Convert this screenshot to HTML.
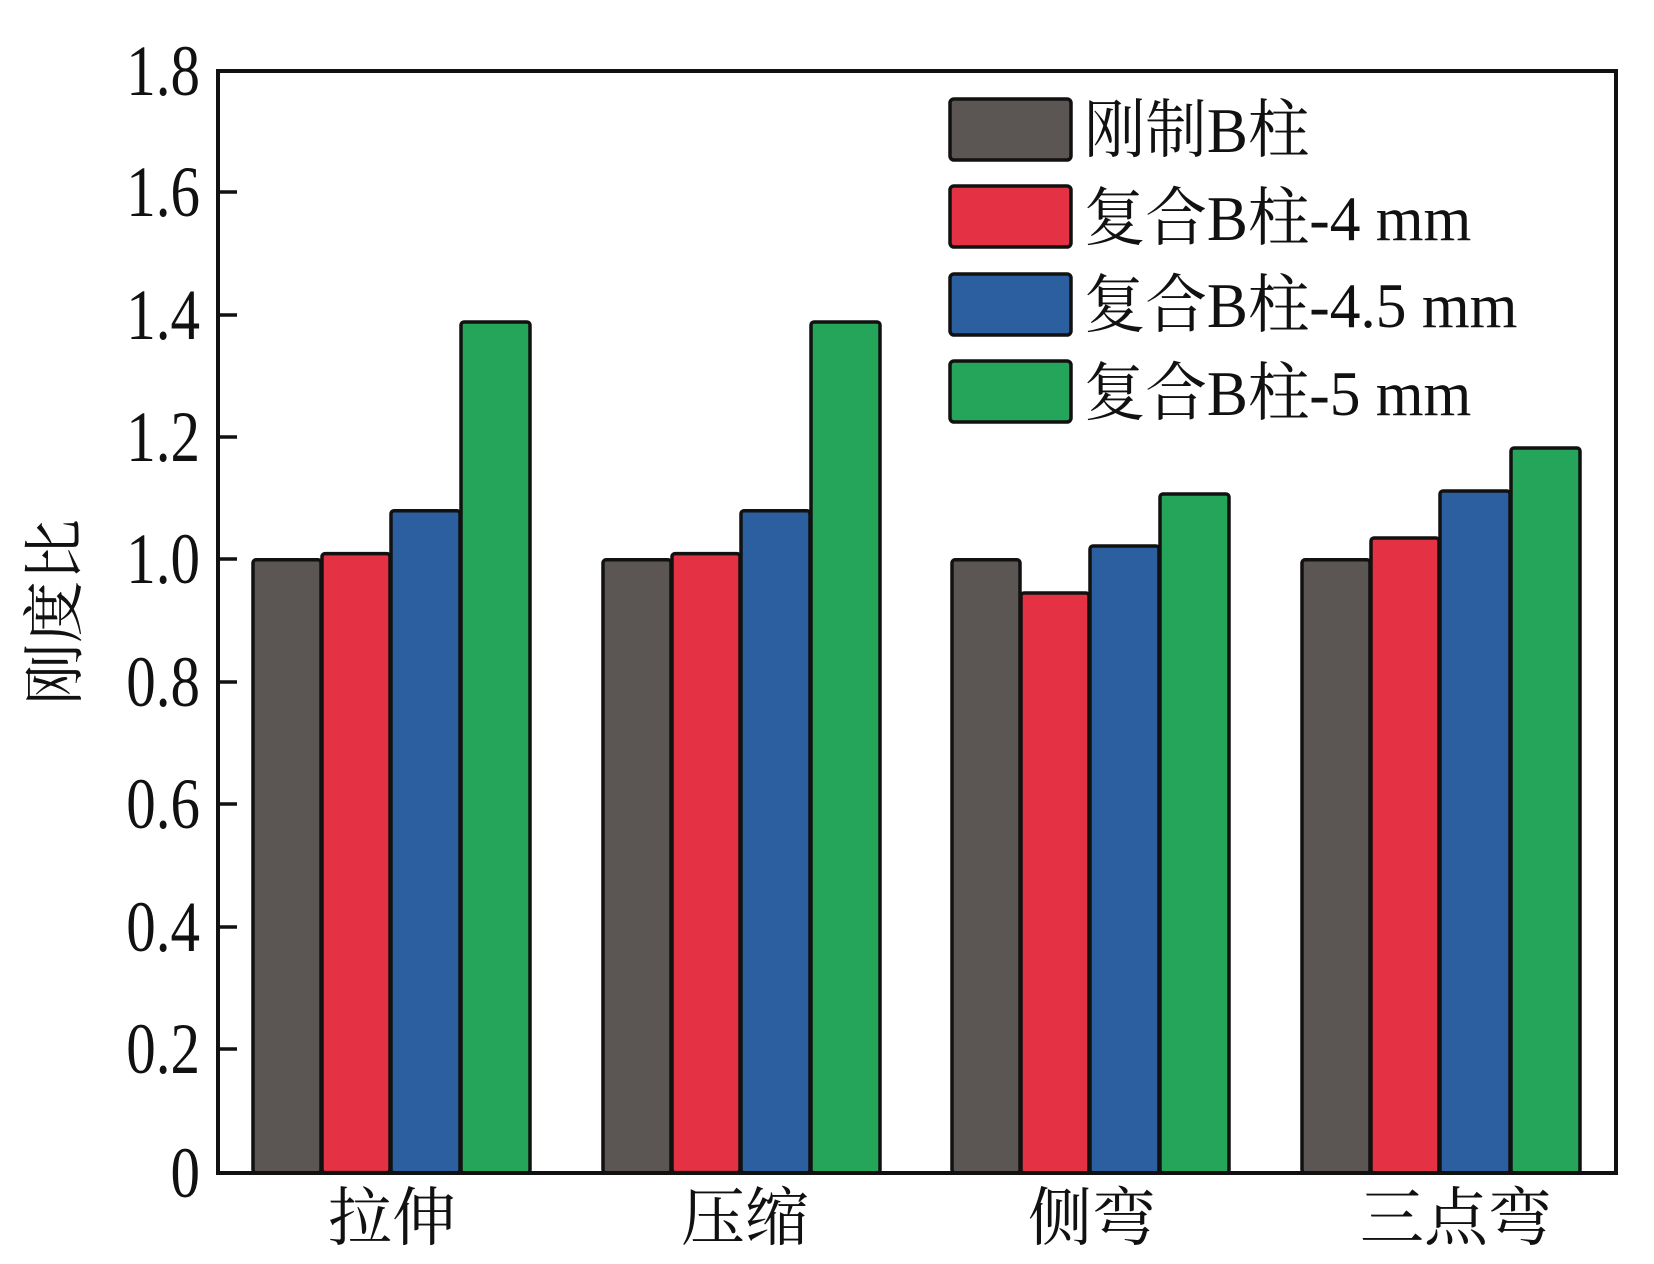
<!DOCTYPE html>
<html><head><meta charset="utf-8"><style>
html,body{margin:0;padding:0;background:#fff}
svg{display:block}
</style></head><body>
<svg width="1654" height="1264" viewBox="0 0 1654 1264" xmlns="http://www.w3.org/2000/svg">
<rect width="1654" height="1264" fill="#fff"/>
<g stroke="#111" stroke-width="3.5" stroke-linejoin="round" transform="translate(0,-3)">
<rect x="253" y="562.8" width="68" height="613" fill="#5b5653" rx="3"/>
<rect x="322" y="556.6" width="68" height="619" fill="#e43244" rx="3"/>
<rect x="391" y="513.7" width="69" height="662" fill="#2b5f9f" rx="3"/>
<rect x="461" y="325" width="69" height="851" fill="#24a55a" rx="3"/>
<rect x="603" y="562.8" width="68" height="613" fill="#5b5653" rx="3"/>
<rect x="672" y="556.6" width="68" height="619" fill="#e43244" rx="3"/>
<rect x="741" y="513.7" width="69" height="662" fill="#2b5f9f" rx="3"/>
<rect x="811" y="325" width="69" height="851" fill="#24a55a" rx="3"/>
<rect x="952" y="562.8" width="68" height="613" fill="#5b5653" rx="3"/>
<rect x="1021" y="596" width="68" height="580" fill="#e43244" rx="3"/>
<rect x="1090" y="549" width="69" height="627" fill="#2b5f9f" rx="3"/>
<rect x="1160" y="497" width="69" height="679" fill="#24a55a" rx="3"/>
<rect x="1302" y="562.8" width="68" height="613" fill="#5b5653" rx="3"/>
<rect x="1371" y="541" width="68" height="635" fill="#e43244" rx="3"/>
<rect x="1440" y="494" width="70" height="682" fill="#2b5f9f" rx="3"/>
<rect x="1511" y="451" width="69" height="725" fill="#24a55a" rx="3"/>
</g>
<rect x="218" y="71" width="1398" height="1102" fill="none" stroke="#111" stroke-width="4"/>
<g stroke="#111" stroke-width="3.5">
<line x1="218" y1="192" x2="237" y2="192"/>
<line x1="218" y1="315" x2="237" y2="315"/>
<line x1="218" y1="437" x2="237" y2="437"/>
<line x1="218" y1="559" x2="237" y2="559"/>
<line x1="218" y1="682" x2="237" y2="682"/>
<line x1="218" y1="804" x2="237" y2="804"/>
<line x1="218" y1="927" x2="237" y2="927"/>
<line x1="218" y1="1049" x2="237" y2="1049"/>
</g>
<g font-family="Liberation Serif, serif" font-size="72" fill="#111" text-anchor="end">
<text transform="translate(200,95) scale(0.82,1)">1.8</text>
<text transform="translate(200,216) scale(0.82,1)">1.6</text>
<text transform="translate(200,339) scale(0.82,1)">1.4</text>
<text transform="translate(200,461) scale(0.82,1)">1.2</text>
<text transform="translate(200,583) scale(0.82,1)">1.0</text>
<text transform="translate(200,706) scale(0.82,1)">0.8</text>
<text transform="translate(200,828) scale(0.82,1)">0.6</text>
<text transform="translate(200,951) scale(0.82,1)">0.4</text>
<text transform="translate(200,1073) scale(0.82,1)">0.2</text>
<text transform="translate(200,1197) scale(0.82,1)">0</text>
</g>
<text transform="translate(76,612) rotate(-90)" text-anchor="middle" font-family="Liberation Serif, 'Noto Serif CJK SC', serif" font-size="62" fill="#111">刚度比</text>
<g font-family="Liberation Serif, 'Noto Serif CJK SC', serif" font-size="64" fill="#111" text-anchor="middle">
<text x="392" y="1240">拉伸</text>
<text x="745" y="1240">压缩</text>
<text x="1092" y="1240">侧弯</text>
<text x="1456" y="1240">三点弯</text>
</g>
<g stroke="#111" stroke-width="3.5">
<rect x="950" y="99" width="121" height="61" rx="4" fill="#5b5653"/>
<rect x="950" y="186" width="121" height="61" rx="4" fill="#e43244"/>
<rect x="950" y="274" width="121" height="61" rx="4" fill="#2b5f9f"/>
<rect x="950" y="361" width="121" height="61" rx="4" fill="#24a55a"/>
</g>
<g font-family="Liberation Serif, 'Noto Serif CJK SC', serif" font-size="64" fill="#111">
<text transform="translate(1084,152) scale(0.96,1)">刚制B柱</text>
<text transform="translate(1084,240) scale(0.96,1)">复合B柱-4 mm</text>
<text transform="translate(1084,327) scale(0.96,1)">复合B柱-4.5 mm</text>
<text transform="translate(1084,415) scale(0.96,1)">复合B柱-5 mm</text>
</g>
</svg>
</body></html>
